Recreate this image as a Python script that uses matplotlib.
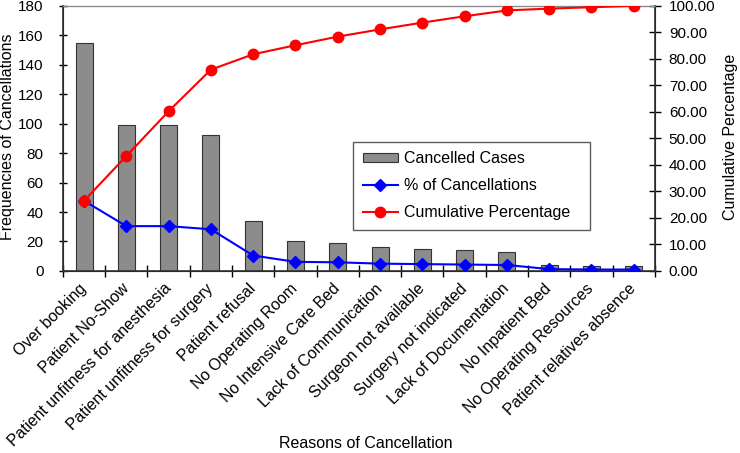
import matplotlib.pyplot as plt
import numpy as np

plt.rcParams['font.family'] = ['Liberation Sans', 'DejaVu Sans']

reasons = ["Over booking", "Patient No-Show", "Patient unfitness for anesthesia",
           "Patient unfitness for surgery", "Patient refusal", "No Operating Room",
           "No Intensive Care Bed", "Lack of Communication", "Surgeon not available",
           "Surgery not indicated", "Lack of Documentation", "No Inpatient Bed",
           "No Operating Resources", "Patient relatives absence"]
cancelled = [155, 99, 99, 92, 34, 20, 19, 16, 15, 14, 13, 4, 3, 3]
pctCancel = [26.45, 16.89, 16.89, 15.70, 5.80, 3.41, 3.24, 2.73, 2.56, 2.39, 2.22, 0.68, 0.51, 0.51]
cumPct = [26.45, 43.34, 60.24, 75.94, 81.74, 85.15, 88.40, 91.13, 93.69, 96.08, 98.29, 98.98, 99.49, 100.00]

fig = plt.figure(figsize=(7.4, 4.53), dpi=100)
ax = fig.add_axes([0.085, 0.402, 0.80, 0.585])
ax2 = ax.twinx()

x = np.arange(len(reasons))
bars = ax.bar(x, cancelled, width=0.4, color='#8c8c8c', edgecolor='#333333',
              linewidth=0.8, label='Cancelled Cases', zorder=2)
l1, = ax2.plot(x, pctCancel, color='#0000ff', marker='D', markersize=6,
               linewidth=1.5, label='% of Cancellations', zorder=3)
l2, = ax2.plot(x, cumPct, color='#ff0000', marker='o', markersize=7.5,
               linewidth=1.5, label='Cumulative Percentage', zorder=4)

ax.set_xlim(-0.5, len(reasons) - 0.5)
ax.set_ylim(0, 180)
ax.set_yticks(np.arange(0, 181, 20))
ax2.set_ylim(0, 100)
ax2.set_yticks(np.arange(0, 101, 10))
ax2.set_yticklabels(["%.2f" % v for v in np.arange(0, 101, 10)])

ax.set_xticks(x)
ax.set_xticklabels(reasons, rotation=45, ha='right', va='center',
                   rotation_mode='anchor', fontsize=11.5)
ax.tick_params(axis='x', length=0, pad=11)
ax.set_xticks(np.arange(-0.5, len(reasons)), minor=True)
ax.tick_params(axis='x', which='minor', direction='inout', length=8, width=1)
ax.tick_params(axis='y', direction='inout', length=6, width=1, labelsize=11, pad=11)
ax2.tick_params(axis='y', direction='inout', length=8, width=1, labelsize=11, pad=6)

for sp in ['left', 'bottom', 'right']:
    ax2.spines[sp].set_linewidth(1.2)
    ax2.spines[sp].set_color('#333333')
ax2.spines['top'].set_color('#888888')

# axis titles placed in figure coords
fig.text(8 / 740, 1 - 137 / 453, "Frequencies of Cancellations", rotation=90,
         ha='center', va='center', fontsize=11.5)
fig.text(731 / 740, 1 - 137 / 453, "Cumulative Percentage", rotation=90,
         ha='center', va='center', fontsize=11.5)
fig.text(366 / 740, 1 - 444 / 453, "Reasons of Cancellation",
         ha='center', va='center', fontsize=11.5)

leg = ax2.legend([bars, l1, l2], ['Cancelled Cases', '% of Cancellations', 'Cumulative Percentage'],
                 loc='lower left', bbox_to_anchor=(0.49, 0.155, 0.40, 0.32), mode='expand',
                 borderaxespad=0, fontsize=11.5, frameon=True, fancybox=False,
                 edgecolor='#333333', handlelength=2.2, handleheight=0.5,
                 handletextpad=0.4, borderpad=0.6, labelspacing=0.75)
leg.get_frame().set_linewidth(1.0)

fig.savefig("out.png", dpi=100)
